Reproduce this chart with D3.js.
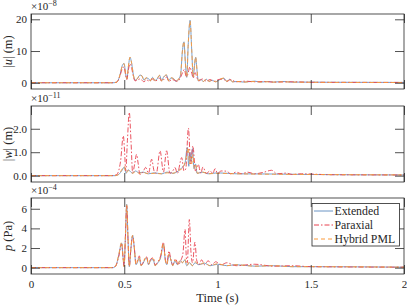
<!DOCTYPE html>
<html>
<head>
<meta charset="utf-8">
<script src="https://cdn.jsdelivr.net/npm/d3@7"></script>
<style>
  body { margin: 0; background: #fff; }
  text { font-family: "Liberation Serif", "DejaVu Serif", serif; fill: #262626; }
</style>
</head>
<body>
<div id="chart"></div>
<script>
// time axis (s)
const xTicks = [0, 0.5, 1, 1.5, 2];
const seriesNames = ["Extended", "Paraxial", "Hybrid PML"];

// |u| x1e-8 m
const uExtended = [[0,0],[0.44,0],[0.46,0.2],[0.475,2],[0.49,5.5],[0.499,6.1],[0.507,3],[0.514,1.2],[0.522,5],[0.531,8.0],[0.54,6],[0.549,2.5],[0.558,0.8],[0.57,1.2],[0.584,2.4],[0.595,2.2],[0.606,0.8],[0.617,1.5],[0.63,1.3],[0.64,0.6],[0.652,1.7],[0.664,0.7],[0.676,1.2],[0.69,2.3],[0.7,0.6],[0.712,1.9],[0.727,2.4],[0.738,0.6],[0.75,1.5],[0.763,1.4],[0.775,0.5],[0.79,1.0],[0.802,2.5],[0.812,10],[0.82,12.9],[0.828,6],[0.835,1.7],[0.843,12],[0.853,19.7],[0.862,10],[0.870,1.7],[0.876,5],[0.883,8.0],[0.89,4],[0.897,0.6],[0.91,1.0],[0.925,0.4],[0.94,1.1],[0.955,0.4],[0.97,0.8],[0.99,0.3],[1.01,0.9],[1.035,1.4],[1.05,0.4],[1.065,1.1],[1.08,0.3],[1.11,0.4],[1.14,0.2],[1.2,0.5],[1.23,0.2],[1.27,0.4],[1.3,0.2],[1.35,0.4],[1.4,0.2],[1.5,0.2],[1.6,0.15],[2,0.1]];
const uParaxial = [[0,0],[0.44,0],[0.46,0.2],[0.475,1.8],[0.49,4.5],[0.499,5.0],[0.507,2.5],[0.514,1],[0.522,4],[0.531,6.0],[0.54,4.5],[0.549,2],[0.558,0.6],[0.57,0.8],[0.584,1.2],[0.595,0.8],[0.606,0.3],[0.62,0.9],[0.635,0.5],[0.65,1.2],[0.665,0.5],[0.68,1.0],[0.69,1.5],[0.7,0.5],[0.715,1.2],[0.727,1.8],[0.74,0.4],[0.755,1.0],[0.77,0.8],[0.785,0.4],[0.8,1.5],[0.815,3.5],[0.822,4.2],[0.832,2],[0.84,2.5],[0.852,5.0],[0.862,3],[0.87,1.5],[0.88,3.2],[0.89,1.5],[0.9,0.6],[0.92,1.2],[0.94,0.5],[0.96,1.0],[0.98,0.4],[1.0,0.9],[1.03,1.2],[1.05,0.4],[1.07,1.0],[1.1,0.3],[1.15,0.5],[1.2,0.3],[1.25,0.4],[1.3,0.2],[1.4,0.3],[1.5,0.15],[2,0.1]];
const uHybrid = [[0,0],[0.44,0],[0.46,0.2],[0.475,2.1],[0.49,5.4],[0.499,6.0],[0.507,3.1],[0.514,1.3],[0.522,5.1],[0.531,8.1],[0.54,6.1],[0.549,2.4],[0.558,0.9],[0.57,1.3],[0.584,2.5],[0.595,2.1],[0.606,0.7],[0.617,1.6],[0.63,1.2],[0.64,0.6],[0.652,1.8],[0.664,0.7],[0.676,1.3],[0.69,2.4],[0.7,0.6],[0.712,1.8],[0.727,2.5],[0.738,0.6],[0.75,1.6],[0.763,1.3],[0.775,0.5],[0.79,1.1],[0.802,2.6],[0.812,10.2],[0.82,13.0],[0.828,6.2],[0.835,1.8],[0.843,12.2],[0.853,19.5],[0.862,10.2],[0.870,1.8],[0.876,5.2],[0.883,8.1],[0.89,4.1],[0.897,0.7],[0.91,1.1],[0.925,0.4],[0.94,1.2],[0.955,0.4],[0.97,0.8],[0.99,0.3],[1.01,1.0],[1.035,1.5],[1.05,0.4],[1.065,1.2],[1.08,0.3],[1.11,0.4],[1.14,0.2],[1.2,0.4],[1.23,0.2],[1.27,0.3],[1.3,0.2],[1.35,0.3],[1.4,0.2],[1.5,0.15],[1.6,0.1],[2,0.08]];

// |w| x1e-11 m
const wExtended = [[0,0],[0.45,0],[0.47,0.05],[0.49,0.25],[0.5,0.37],[0.51,0.1],[0.52,0.25],[0.53,0.2],[0.545,0.1],[0.56,0.2],[0.58,0.12],[0.6,0.15],[0.63,0.08],[0.66,0.12],[0.7,0.08],[0.73,0.15],[0.76,0.1],[0.79,0.2],[0.81,0.35],[0.825,0.5],[0.838,1.2],[0.846,0.4],[0.852,1.0],[0.858,0.6],[0.866,1.15],[0.874,0.3],[0.882,0.5],[0.89,0.1],[0.92,0.15],[0.95,0.08],[1,0.12],[1.1,0.08],[1.3,0.07],[1.5,0.05],[2,0.03]];
const wParaxial = [[0,0],[0.44,0],[0.46,0.05],[0.48,0.6],[0.495,1.70],[0.502,1.0],[0.508,0.2],[0.517,1.5],[0.527,2.70],[0.536,1.5],[0.545,0.13],[0.556,0.5],[0.566,0.91],[0.575,0.5],[0.584,0.05],[0.6,0.15],[0.615,0.35],[0.63,0.1],[0.647,0.7],[0.66,0.2],[0.672,0.1],[0.692,1.06],[0.71,0.15],[0.727,1.06],[0.745,0.1],[0.76,0.2],[0.772,0.35],[0.785,0.1],[0.808,0.77],[0.82,0.2],[0.83,0.3],[0.844,2.03],[0.856,0.5],[0.868,1.27],[0.882,0.2],[0.897,0.48],[0.91,0.1],[0.922,0.37],[0.94,0.1],[0.96,0.2],[0.975,0.1],[0.987,0.3],[1.0,0.1],[1.02,0.2],[1.05,0.19],[1.07,0.08],[1.1,0.15],[1.13,0.08],[1.16,0.15],[1.2,0.08],[1.25,0.15],[1.29,0.23],[1.32,0.08],[1.37,0.11],[1.4,0.05],[1.45,0.08],[1.5,0.07],[1.6,0.04],[2,0.03]];
const wHybrid = [[0,0],[0.45,0],[0.47,0.05],[0.49,0.3],[0.5,0.4],[0.51,0.12],[0.52,0.22],[0.53,0.18],[0.545,0.1],[0.56,0.18],[0.58,0.1],[0.6,0.14],[0.63,0.08],[0.66,0.1],[0.7,0.08],[0.73,0.12],[0.76,0.1],[0.79,0.22],[0.81,0.3],[0.825,0.55],[0.835,0.9],[0.843,1.2],[0.85,0.5],[0.856,0.8],[0.862,0.5],[0.868,0.9],[0.876,0.3],[0.884,0.45],[0.892,0.1],[0.92,0.15],[0.95,0.08],[1,0.1],[1.1,0.08],[1.3,0.06],[1.5,0.05],[2,0.03]];

// p x1e-4 Pa
const pExtended = [[0,0],[0.44,0],[0.455,0.2],[0.47,1.2],[0.486,2.5],[0.493,1.2],[0.499,0.13],[0.506,3],[0.513,6.45],[0.52,3],[0.527,0.1],[0.536,2],[0.545,3.3],[0.554,2],[0.563,0.3],[0.572,0.6],[0.581,1.0],[0.59,0.2],[0.6,0.4],[0.61,0.8],[0.62,1.0],[0.63,0.3],[0.643,0.8],[0.656,0.8],[0.665,0.2],[0.68,0.5],[0.695,1.0],[0.71,2.4],[0.72,0.8],[0.728,0.3],[0.74,1.33],[0.75,0.8],[0.76,0.2],[0.772,0.7],[0.785,0.3],[0.8,0.7],[0.812,0.5],[0.825,0.8],[0.835,0.2],[0.85,0.5],[0.865,0.2],[0.88,0.5],[0.9,0.3],[0.93,0.45],[0.96,0.2],[1.0,0.35],[1.05,0.2],[1.1,0.3],[1.2,0.15],[1.3,0.2],[1.4,0.1],[1.5,0.1],[2,0.05]];
const pParaxial = [[0,0],[0.44,0],[0.455,0.2],[0.47,1.1],[0.486,2.4],[0.493,1.1],[0.499,0.15],[0.506,3],[0.513,6.3],[0.52,3],[0.527,0.15],[0.536,2],[0.545,3.2],[0.554,2],[0.563,0.4],[0.572,0.8],[0.581,1.2],[0.59,0.3],[0.6,0.5],[0.61,0.9],[0.62,1.1],[0.63,0.4],[0.643,0.9],[0.656,1.0],[0.665,0.3],[0.68,0.6],[0.695,1.2],[0.71,2.6],[0.72,0.9],[0.728,0.4],[0.74,1.7],[0.75,0.8],[0.76,0.3],[0.775,0.9],[0.79,0.3],[0.805,0.8],[0.815,1.5],[0.826,3.9],[0.833,1],[0.838,0.5],[0.849,4.9],[0.858,1.5],[0.866,0.5],[0.879,2.6],[0.888,0.8],[0.9,0.3],[0.915,0.8],[0.93,0.3],[0.95,0.7],[0.97,0.3],[0.99,0.6],[1.02,0.3],[1.05,0.5],[1.1,0.2],[1.2,0.35],[1.3,0.15],[1.4,0.2],[1.5,0.1],[2,0.05]];
const pHybrid = [[0,0],[0.44,0],[0.455,0.2],[0.47,1.3],[0.486,2.6],[0.493,1.2],[0.499,0.1],[0.506,3.1],[0.513,6.4],[0.52,3.1],[0.527,0.1],[0.536,2.1],[0.545,3.3],[0.554,2],[0.563,0.3],[0.572,0.7],[0.581,1.1],[0.59,0.2],[0.6,0.4],[0.61,0.9],[0.62,1.1],[0.63,0.3],[0.643,0.9],[0.656,0.9],[0.665,0.2],[0.68,0.5],[0.695,1.1],[0.71,2.5],[0.72,0.8],[0.728,0.3],[0.74,1.4],[0.75,0.8],[0.76,0.2],[0.772,0.8],[0.785,0.3],[0.8,0.8],[0.812,0.5],[0.825,0.9],[0.835,0.2],[0.85,0.6],[0.865,0.2],[0.88,0.6],[0.9,0.3],[0.93,0.5],[0.96,0.2],[1.0,0.4],[1.05,0.2],[1.1,0.3],[1.2,0.15],[1.3,0.2],[1.4,0.1],[1.5,0.1],[2,0.05]];

const uTicks = [0, 10, 20];
const wTicks = [0, 1, 2];
const pTicks = [0, 2, 4, 6];

const W = 407, H = 306;
const left = 31, right = 404;
const colors = ["#6a94c4", "#e8414e", "#fb9a3a"];
const dashes = [null, "5,2,1.5,2", "4,3"];

const svg = d3.select("#chart").append("svg")
  .attr("width", W).attr("height", H);

const x = d3.scaleLinear().domain([0, 2]).range([left, right]);

const panels = [
  { top: 14, bottom: 89, series: [uExtended, uParaxial, uHybrid], ticks: uTicks, exp: "\u22128", sym: "u", unit: "(m)", abs: true },
  { top: 106, bottom: 182, series: [wExtended, wParaxial, wHybrid], ticks: wTicks, exp: "\u221211", sym: "w", unit: "(m)", abs: true },
  { top: 198, bottom: 274, series: [pExtended, pParaxial, pHybrid], ticks: pTicks, exp: "\u22124", sym: "p", unit: "(Pa)", abs: false }
];

panels.forEach(function (p, i) {
  const M = d3.max(p.series, s => d3.max(s, d => d[1]));
  const y = d3.scaleLinear().domain([-0.1 * M, 1.1 * M]).range([p.bottom, p.top]);
  const g = svg.append("g");

  g.append("clipPath").attr("id", "clip" + i)
    .append("rect").attr("x", left).attr("y", p.top)
    .attr("width", right - left).attr("height", p.bottom - p.top);

  const line = d3.line()
    .x(d => x(d[0])).y(d => y(d[1]))
    .curve(d3.curveMonotoneX);

  // lines
  p.series.forEach(function (s, k) {
    g.append("path")
      .attr("clip-path", "url(#clip" + i + ")")
      .attr("d", line(s))
      .attr("fill", "none")
      .attr("stroke", colors[k])
      .attr("stroke-width", 0.9)
      .attr("stroke-dasharray", dashes[k]);
  });

  // axes, ticks pointing inward on all four sides
  const tl = 9;
  g.append("g").attr("transform", "translate(" + left + ",0)")
    .call(d3.axisLeft(y).tickValues(p.ticks).tickSizeInner(-tl).tickSizeOuter(0).tickPadding(4));
  g.append("g").attr("transform", "translate(" + right + ",0)")
    .call(d3.axisRight(y).tickValues(p.ticks).tickSizeInner(-tl).tickSizeOuter(0).tickFormat(""));
  g.append("g").attr("transform", "translate(0," + p.bottom + ")")
    .call(d3.axisBottom(x).tickValues(xTicks).tickSizeInner(-tl).tickSizeOuter(0).tickPadding(6)
      .tickFormat(i === 2 ? d3.format("") : ""));
  g.append("g").attr("transform", "translate(0," + p.top + ")")
    .call(d3.axisTop(x).tickValues(xTicks).tickSizeInner(-tl).tickSizeOuter(0).tickFormat(""));

  g.selectAll(".domain").remove();
  g.selectAll(".tick line").attr("stroke", "#262626").attr("stroke-width", 0.8);
  g.selectAll(".tick text").attr("font-size", 11)
    .attr("font-family", "Liberation Serif, serif").attr("fill", "#262626");

  g.append("rect").attr("x", left).attr("y", p.top)
    .attr("width", right - left).attr("height", p.bottom - p.top)
    .attr("fill", "none").attr("stroke", "#262626").attr("stroke-width", 0.8);

  // exponent label
  const e = g.append("text").attr("x", left).attr("y", p.top - 4).attr("font-size", 11);
  e.append("tspan").text("\u00d710");
  e.append("tspan").attr("dy", -4).attr("font-size", 8).text(p.exp);

  // y label
  const yl = g.append("text")
    .attr("transform", "translate(12," + ((p.top + p.bottom) / 2) + ") rotate(-90)")
    .attr("text-anchor", "middle").attr("font-size", 12.5);
  if (p.abs) {
    yl.append("tspan").text("|");
    yl.append("tspan").attr("font-style", "italic").text(p.sym);
    yl.append("tspan").text("| " + p.unit);
  } else {
    yl.append("tspan").attr("font-style", "italic").text(p.sym);
    yl.append("tspan").text(" " + p.unit);
  }
});

// x label
svg.append("text").attr("x", x(1)).attr("y", 302)
  .attr("text-anchor", "middle").attr("font-size", 12.5).text("Time (s)");

// legend
const lg = svg.append("g").attr("transform", "translate(312,203.5)");
lg.append("rect").attr("width", 87.5).attr("height", 42.5)
  .attr("fill", "#fff").attr("stroke", "#262626").attr("stroke-width", 0.8);
seriesNames.forEach(function (n, k) {
  const yy = 7.5 + k * 14;
  lg.append("line").attr("x1", 2).attr("x2", 21).attr("y1", yy).attr("y2", yy)
    .attr("stroke", colors[k]).attr("stroke-width", 1).attr("stroke-dasharray", dashes[k]);
  lg.append("text").attr("x", 22.5).attr("y", yy + 3.8).attr("font-size", 11.8).text(n);
});
</script>
</body>
</html>
